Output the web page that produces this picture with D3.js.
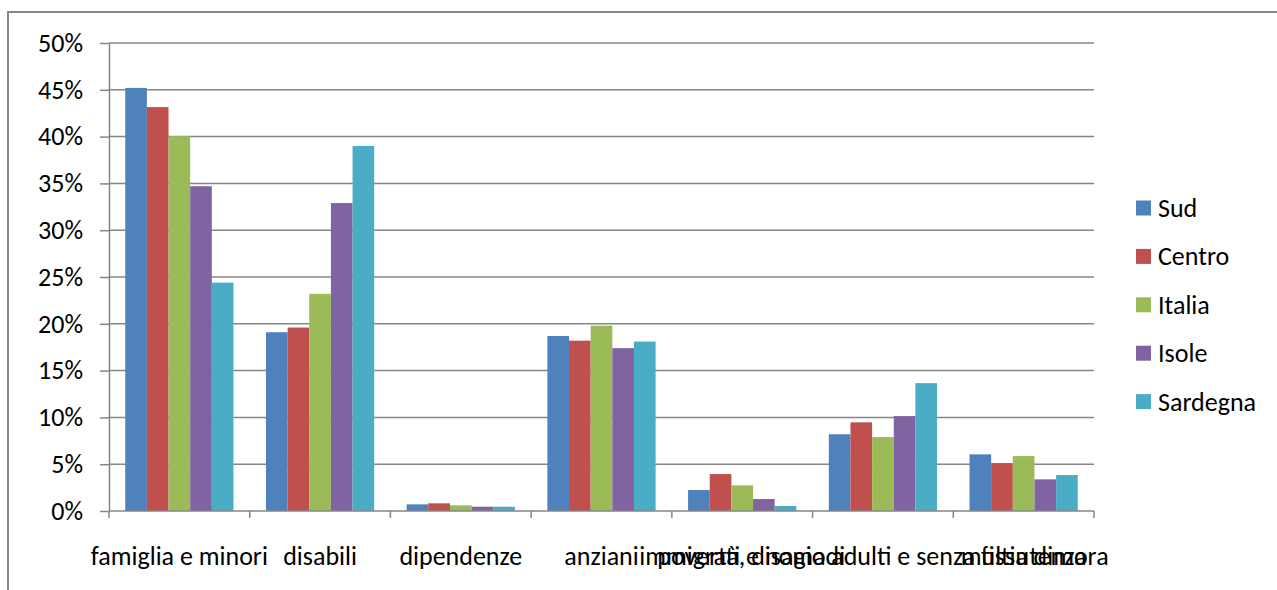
<!DOCTYPE html>
<html>
<head>
<meta charset="utf-8">
<script src="https://cdn.jsdelivr.net/npm/d3@7"></script>
<style>
  html, body { margin: 0; padding: 0; background: #fff; }
  svg { display: block; }
  text { font-family: Carlito, Calibri, Lato, sans-serif; fill: #000; }
</style>
</head>
<body>
<svg id="chart" width="1277" height="590"></svg>
<script>
// Categories of social-service users
const categories = [
  "famiglia e minori",
  "disabili",
  "dipendenze",
  "anziani",
  "immigrati e nomadi",
  "povertà, disagio adulti e senza fissa dimora",
  "multiutenza"
];

// Share of spending per area (fractions)
const seriesNames = ["Sud", "Centro", "Italia", "Isole", "Sardegna"];
const sud      = [0.452, 0.191, 0.0071, 0.187, 0.0224, 0.082, 0.0605];
const centro   = [0.4315, 0.196, 0.0082, 0.182, 0.0395, 0.0947, 0.0512];
const italia   = [0.4005, 0.232, 0.006, 0.198, 0.0274, 0.079, 0.0587];
const isole    = [0.347, 0.329, 0.0046, 0.174, 0.0128, 0.1014, 0.0338];
const sardegna = [0.244, 0.390, 0.0046, 0.181, 0.0053, 0.1366, 0.0384];
const seriesValues = [sud, centro, italia, isole, sardegna];
const seriesColors = ["#4F81BD", "#C0504D", "#9BBB59", "#8064A2", "#4BACC6"];

const yTicks = [0, 0.05, 0.10, 0.15, 0.20, 0.25, 0.30, 0.35, 0.40, 0.45, 0.50];

const svg = d3.select("#chart");
const plot = { left: 109, right: 1094, top: 43, bottom: 511 };
const fontSize = 26;
const gridColor = "#868686";

// outer chart frame
svg.append("rect")
  .attr("x", 8).attr("y", 12)
  .attr("width", 1300).attr("height", 600)
  .attr("fill", "none")
  .attr("stroke", gridColor)
  .attr("stroke-width", 2);

const x0 = d3.scaleBand().domain(categories).range([plot.left, plot.right]).padding(0);
const bw = x0.bandwidth();
const x1 = d3.scaleBand().domain(seriesNames)
  .range([bw * 0.75 / 6.5, bw * 5.75 / 6.5]).padding(0);
const y = d3.scaleLinear().domain([0, 0.5]).range([plot.bottom, plot.top]);

// horizontal gridlines
svg.append("g")
  .selectAll("line")
  .data(yTicks.filter(d => d > 0))
  .join("line")
  .attr("x1", plot.left).attr("x2", plot.right)
  .attr("y1", d => y(d)).attr("y2", d => y(d))
  .attr("stroke", gridColor).attr("stroke-width", 1.5);

// bars
const groups = svg.append("g")
  .selectAll("g")
  .data(categories)
  .join("g")
  .attr("transform", d => `translate(${x0(d)},0)`);

groups.selectAll("rect")
  .data((c, i) => seriesNames.map((s, k) => ({ s, v: seriesValues[k][i], color: seriesColors[k] })))
  .join("rect")
  .attr("x", d => x1(d.s))
  .attr("width", x1.bandwidth())
  .attr("y", d => y(d.v))
  .attr("height", d => y(0) - y(d.v))
  .attr("fill", d => d.color);

// y axis
const yAxis = d3.axisLeft(y)
  .tickValues(yTicks)
  .tickFormat(d3.format(".0%"))
  .tickSizeInner(9)
  .tickSizeOuter(0)
  .tickPadding(17);
const gy = svg.append("g")
  .attr("transform", `translate(${plot.left},0)`)
  .call(yAxis);
gy.select(".domain").attr("stroke", gridColor).attr("stroke-width", 1.5);
gy.selectAll(".tick line").attr("stroke", gridColor).attr("stroke-width", 1.5);
gy.selectAll(".tick text")
  .style("font-size", fontSize + "px")
  .style("font-family", "Carlito, Calibri, Lato, sans-serif")
  .attr("fill", "#000");

// x axis: baseline with boundary ticks
svg.append("line")
  .attr("x1", plot.left).attr("x2", plot.right)
  .attr("y1", plot.bottom).attr("y2", plot.bottom)
  .attr("stroke", gridColor).attr("stroke-width", 1.5);
const boundaries = categories.map(c => x0(c)).concat([plot.right]);
svg.append("g")
  .selectAll("line")
  .data(boundaries)
  .join("line")
  .attr("x1", d => d).attr("x2", d => d)
  .attr("y1", plot.bottom).attr("y2", plot.bottom + 7)
  .attr("stroke", gridColor).attr("stroke-width", 1.5);

// category labels, centred under each group
svg.append("g")
  .selectAll("text")
  .data(categories)
  .join("text")
  .attr("x", d => x0(d) + bw / 2)
  .attr("y", 556)
  .attr("text-anchor", "middle")
  .attr("dominant-baseline", "central")
  .style("font-size", fontSize + "px")
  .text(d => d);

// legend
const legend = svg.append("g")
  .selectAll("g")
  .data(seriesNames)
  .join("g")
  .attr("transform", (d, i) => `translate(1136,${208 + i * 48.4})`);
legend.append("rect")
  .attr("x", 0).attr("y", -7.5)
  .attr("width", 15).attr("height", 15)
  .attr("fill", (d, i) => seriesColors[i]);
legend.append("text")
  .attr("x", 22).attr("y", 0)
  .attr("dominant-baseline", "central")
  .style("font-size", fontSize + "px")
  .text(d => d);
</script>
</body>
</html>
